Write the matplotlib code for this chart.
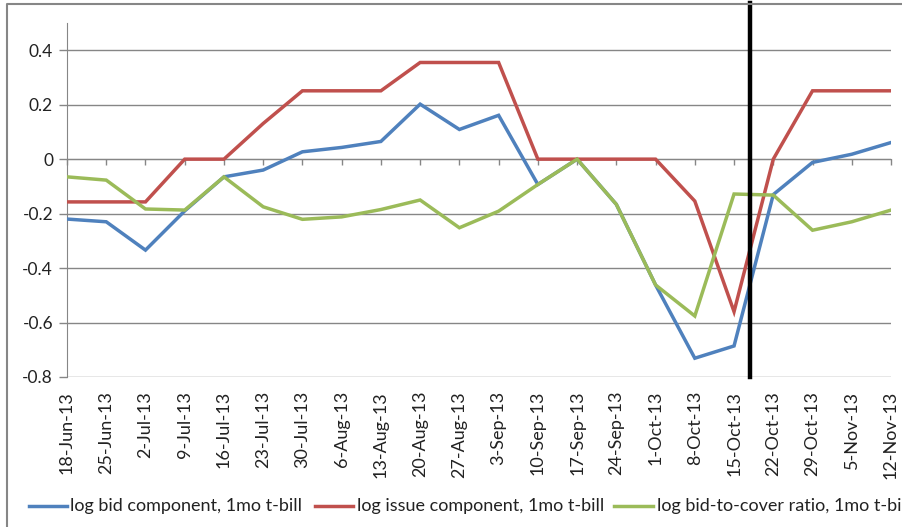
import matplotlib
matplotlib.use('Agg')
import matplotlib.pyplot as plt
from matplotlib.lines import Line2D

plt.rcParams['font.family'] = ['Lato', 'DejaVu Sans']

# Data
dates = ['18-Jun-13', '25-Jun-13', '2-Jul-13', '9-Jul-13', '16-Jul-13', '23-Jul-13',
         '30-Jul-13', '6-Aug-13', '13-Aug-13', '20-Aug-13', '27-Aug-13', '3-Sep-13',
         '10-Sep-13', '17-Sep-13', '24-Sep-13', '1-Oct-13', '8-Oct-13', '15-Oct-13',
         '22-Oct-13', '29-Oct-13', '5-Nov-13', '12-Nov-13']
bid = [-0.220, -0.230, -0.334, -0.190, -0.065, -0.040, 0.027, 0.043, 0.065, 0.202,
       0.109, 0.161, -0.093, 0.000, -0.166, -0.462, -0.731, -0.686, -0.130, -0.012,
       0.018, 0.061]
issue = [-0.157, -0.157, -0.157, 0.000, 0.000, 0.131, 0.251, 0.251, 0.251, 0.355,
         0.355, 0.355, 0.000, 0.000, 0.000, 0.000, -0.154, -0.560, 0.000, 0.251,
         0.251, 0.251]
cover = [-0.065, -0.077, -0.183, -0.187, -0.065, -0.175, -0.221, -0.212, -0.185, -0.150,
         -0.252, -0.191, -0.093, 0.000, -0.166, -0.462, -0.576, -0.128, -0.132, -0.261,
         -0.230, -0.187]
labels = ['log bid component, 1mo t-bill', 'log issue component, 1mo t-bill',
          'log bid-to-cover ratio, 1mo t-bill']
colors = ['#4F81BD', '#C0504D', '#9BBB59']
event_x = 17.4  # vertical marker between 15-Oct and 22-Oct

grid_c = '#868686'
W, H = 902, 527
fig = plt.figure(figsize=(W / 100, H / 100), dpi=100)
ax = fig.add_axes([67 / W, 1 - 377 / H, 824 / W, 354 / H])

x = list(range(len(dates)))
for s, c in zip([bid, issue, cover], colors):
    ax.plot(x, s, color=c, lw=2.5, solid_joinstyle='miter', zorder=3)

ax.set_xlim(0, len(dates) - 1)
ax.set_ylim(-0.8, 0.5)
yt = [-0.8, -0.6, -0.4, -0.2, 0, 0.2, 0.4]
ax.set_yticks(yt)
ax.set_yticklabels(['-0.8', '-0.6', '-0.4', '-0.2', '0', '0.2', '0.4'])
for v in yt:
    ax.axhline(v, color=grid_c, lw=1.0, zorder=1)
ax.tick_params(axis='y', length=6, width=1, color=grid_c, pad=4, labelsize=12.5,
               labelcolor='#222222')

for sp in ['top', 'right']:
    ax.spines[sp].set_visible(False)
ax.spines['left'].set_color(grid_c)
ax.spines['bottom'].set_color(grid_c)
ax.spines['bottom'].set_position(('data', 0))
ax.set_xticks(x)
ax.tick_params(axis='x', length=4.5, width=1, color=grid_c, labelbottom=False)

sec = ax.secondary_xaxis(0.0)
sec.set_xticks(x)
sec.set_xticklabels(dates, rotation=90, fontsize=13, color='#222222')
sec.tick_params(length=0, pad=10)
sec.spines['bottom'].set_visible(False)

ax.axvline(event_x, ymin=0, ymax=(377 - 3) / 354, color='black', lw=3.2,
           clip_on=False, zorder=4)

# chart frame (left and top edges visible)
fig.add_artist(Line2D([7.5 / W, 7.5 / W, 1], [0, 1 - 3.5 / H, 1 - 3.5 / H],
                      transform=fig.transFigure, color=grid_c, lw=1.5))

# legend along the bottom
leg_y = 1 - 506 / H
for (x0, x1, tx), lab, c in zip([(29, 67, 70), (315, 353, 357), (614, 653, 657)],
                                labels, colors):
    fig.add_artist(Line2D([x0 / W, x1 / W], [leg_y, leg_y],
                          transform=fig.transFigure, color=c, lw=2.5))
    fig.text(tx / W, leg_y, lab, fontsize=13, va='center', ha='left', color='#222222')

fig.savefig('out.png', dpi=100)
